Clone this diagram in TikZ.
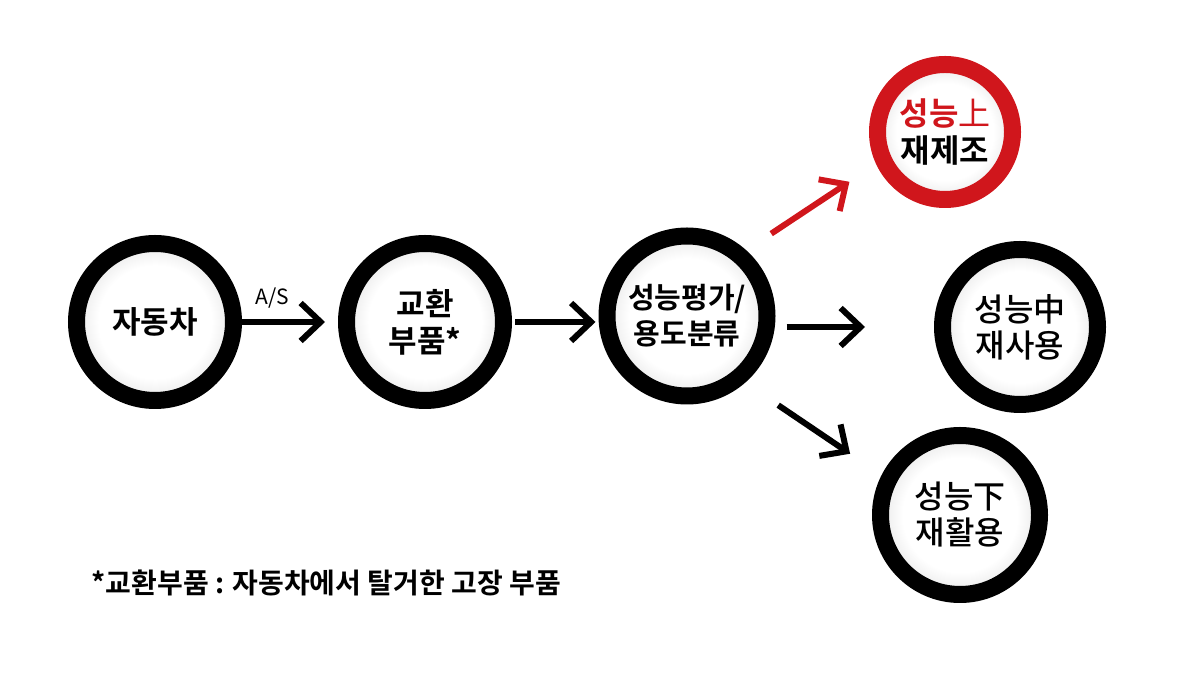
\documentclass[tikz,border=0pt]{standalone}
\usepackage{fontspec}
\setmainfont{Noto Sans CJK KR}[BoldFont={* Bold}]
\newfontfamily\krmed{Noto Sans CJK KR Medium}
\usetikzlibrary{arrows.meta}
\definecolor{ringred}{RGB}{208,22,28}
\pgfdeclareradialshading{ringfill}{\pgfpoint{0bp}{0bp}}{color(0bp)=(white); color(18bp)=(white); color(36bp)=(black!22); color(100bp)=(black!22)}
\tikzset{
  ring/.style={circle, draw=black, line width=17pt, shading=ringfill, align=center, inner sep=0pt, minimum size=#1},
  ring/.default=157pt,
  redring/.style={ring=#1, draw=ringred},
  bigtext/.style={font=\bfseries\fontsize{31}{37}\selectfont},
  medtext/.style={font=\krmed\fontsize{32}{36}\selectfont},
  arr/.style={line width=6pt, -{Straight Barb[length=20pt, width=38pt]}},
  redarr/.style={arr, draw=ringred}
}
\begin{document}
\begin{tikzpicture}[x=1pt,y=1pt]
\useasboundingbox (0,0) rectangle (1200,674);
\node[ring, bigtext] (car) at (155,352) {자동차};
\node[ring, bigtext] (part) at (425,352) {교환\\부품*};
\node[ring=160pt, bigtext, font=\bfseries\fontsize{29}{36}\selectfont] (eval) at (687,358) {성능평가/\\용도분류};
\node[redring=135pt, bigtext, font=\bfseries\fontsize{32}{37}\selectfont] (up) at (945,542) {\textcolor{ringred}{성능{\mdseries 上}}\\재제조};
\node[ring=155pt, medtext] (mid) at (1020,347) {성능{\mdseries 中}\\재사용};
\node[ring=159pt, medtext] (low) at (960,159) {성능{\mdseries 下}\\재활용};
\node[font=\fontsize{21}{23}\selectfont] (as) at (272,376) {A/S};
\node[anchor=west, font=\bfseries\fontsize{28}{32}\selectfont] (note) at (88,91) {*교환부품 : 자동차에서 탈거한 고장 부품};
\draw[arr, shorten >=13pt] (car) -- (part);
\draw[arr, shorten <=3pt, shorten >=3pt] (part.east) -- (part.east -| eval.west);
\draw[arr, shorten <=11pt, shorten >=69pt] (eval.east |- mid) -- (mid.west);
\draw[redarr, shorten <=30pt, shorten >=32pt] (eval.48) -- (up.205);
\draw[arr, shorten <=40pt, shorten >=38pt] (eval.-49) -- (low.153);
\end{tikzpicture}
\end{document}
